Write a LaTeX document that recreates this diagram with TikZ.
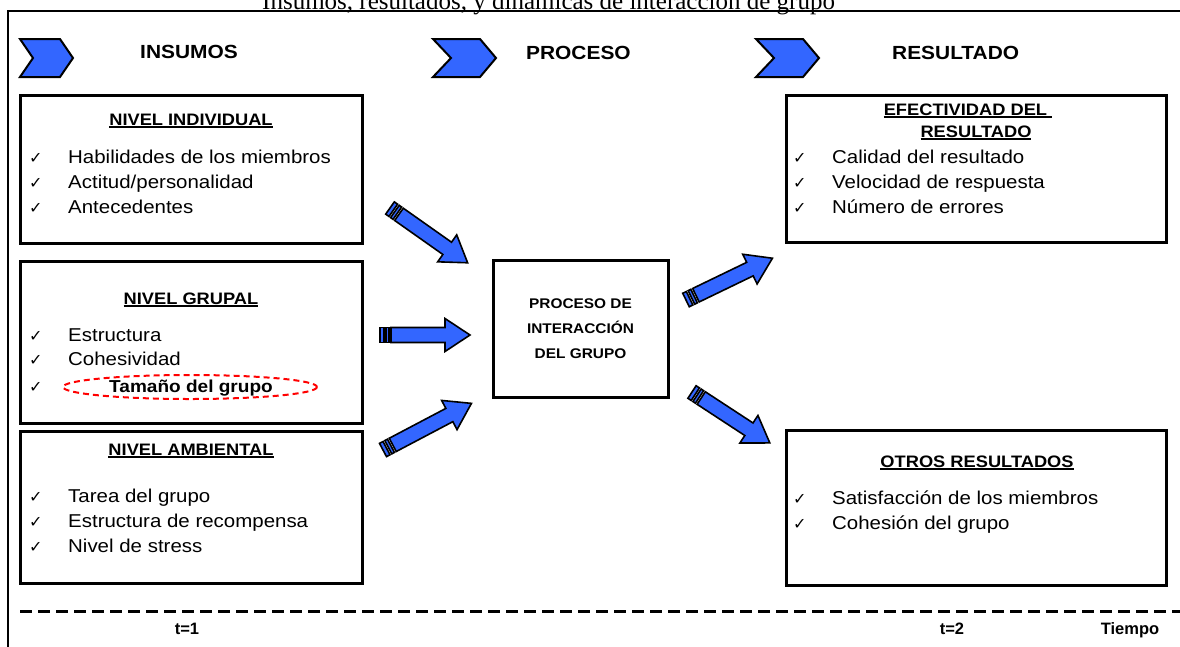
\documentclass[tikz,border=0pt]{standalone}
\usepackage{fontspec}
\setmainfont{Liberation Serif}
\setsansfont{Liberation Sans}
\newfontfamily\dejavu{DejaVu Sans}
\newfontfamily\arialS[FakeStretch=1.1]{Liberation Sans}
\newfontfamily\arialN{Liberation Sans}
\definecolor{arrblue}{HTML}{3366FF}
\definecolor{ellred}{HTML}{FF0000}
\newcommand\myul[1]{\setbox0=\hbox{#1}\leavevmode\rlap{\rule[-3.2pt]{\wd0}{1.8pt}}\box0}
\newcommand\itemfont{\arialS\fontsize{18.6}{20}\selectfont}
\newcommand\headfont{\arialS\bfseries\fontsize{16.6}{20}\selectfont}
\newcommand\topfont{\arialS\bfseries\fontsize{19}{20}\selectfont}
\newcommand\procfont{\arialS\bfseries\fontsize{14}{25}\selectfont}
\newcommand\timefont{\arialN\bfseries\fontsize{16.5}{18}\selectfont}
\tikzset{
  framel/.style={line width=2pt},
  boxx/.style={draw, line width=3pt, rectangle, inner sep=0pt, outer sep=0pt, anchor=north west},
  chev/.style={fill=arrblue, draw=black, line width=2pt, line join=miter},
  arrowpart/.style={fill=arrblue, draw=black, line width=1.6pt, line join=miter},
  itm/.style={inner sep=0pt, anchor=base west, font=\itemfont},
  hd/.style={inner sep=0pt, anchor=base, font=\headfont},
  tp/.style={inner sep=0pt, anchor=base west, font=\topfont},
  ckm/.style={inner sep=0pt, anchor=base west, font=\dejavu\fontsize{16}{16}\selectfont},
  tm/.style={inner sep=0pt, anchor=base, font=\timefont},
  pics/blockarrow/.style={code={
    \path[arrowpart] (0,-7.5) rectangle (4,7.5);
    \path[arrowpart] (6,-7.5) rectangle (9,7.5);
    \path[arrowpart] (11,-7.5) -- ({#1-25},-7.5) -- ({#1-25},-16.5) -- (#1,0) -- ({#1-25},16.5) -- ({#1-25},7.5) -- (11,7.5) -- cycle;
  }},
}
\begin{document}
\begin{tikzpicture}[x=1pt,y=-1pt]
\useasboundingbox (0,0) rectangle (1180,646);
% title
\node[inner sep=0pt, anchor=base west, font=\fontsize{25}{25}\selectfont] (title) at (262,9) {Insumos, resultados, y dinámicas de interacción de grupo};
% frame
\draw[framel] (8,650) -- (8,11) -- (1184,11);
% chevrons and column titles
\draw[chev] (20,39) -- (60,39) -- (73,58) -- (60,77) -- (20,77) -- (33,58) -- cycle;
\draw[chev] (433,39) -- (480,39) -- (496,58) -- (480,77) -- (433,77) -- (451,58) -- cycle;
\draw[chev] (756,39) -- (803,39) -- (819,58) -- (803,77) -- (756,77) -- (774,58) -- cycle;
\node[tp] (tins) at (140,58) {INSUMOS};
\node[tp] (tpro) at (526,59) {PROCESO};
\node[tp] (tres) at (892,59) {RESULTADO};
% boxes
\node[boxx, minimum width=342pt, minimum height=148pt] (b1) at (20,95) {};
\node[boxx, minimum width=342pt, minimum height=162pt] (b2) at (20,261) {};
\node[boxx, minimum width=342pt, minimum height=152pt] (b3) at (20,431) {};
\node[boxx, minimum width=175pt, minimum height=137pt, anchor=center, align=center, font=\procfont] (bc) at (580.5,329) {PROCESO DE\\INTERACCIÓN\\DEL GRUPO};
\node[boxx, minimum width=380pt, minimum height=147pt] (r1) at (786,95) {};
\node[boxx, minimum width=380pt, minimum height=155pt] (r2) at (786,430) {};
% box 1
\node[hd] (h1) at (191,125) {\myul{NIVEL INDIVIDUAL}};
\node[ckm] (c11) at (29,163) {✓}; \node[itm] (i11) at (68,163) {Habilidades de los miembros};
\node[ckm] (c12) at (29,188) {✓}; \node[itm] (i12) at (68,188) {Actitud/personalidad};
\node[ckm] (c13) at (29,213) {✓}; \node[itm] (i13) at (68,213) {Antecedentes};
% box 2
\node[hd] (h2) at (191,304) {\myul{NIVEL GRUPAL}};
\node[ckm] (c21) at (29,341) {✓}; \node[itm] (i21) at (68,341) {Estructura};
\node[ckm] (c22) at (29,365) {✓}; \node[itm] (i22) at (68,365) {Cohesividad};
\node[ckm] (c23) at (29,392) {✓};
\node[inner sep=0pt, anchor=base, font=\arialS\bfseries\fontsize{17.3}{20}\selectfont] (i23) at (191,392) {Tamaño del grupo};
\draw[ellred, line width=2pt, dash pattern=on 6pt off 4pt] (190,387) ellipse [x radius=127, y radius=12];
% box 3
\node[hd] (h3) at (191,455) {\myul{NIVEL AMBIENTAL}};
\node[ckm] (c31) at (29,502) {✓}; \node[itm] (i31) at (68,502) {Tarea del grupo};
\node[ckm] (c32) at (29,527) {✓}; \node[itm] (i32) at (68,527) {Estructura de recompensa};
\node[ckm] (c33) at (29,552) {✓}; \node[itm] (i33) at (68,552) {Nivel de stress};
% right box 1
\node[hd] (h4) at (968,115) {\myul{EFECTIVIDAD DEL\ }};
\node[hd] (h4b) at (976,137) {\myul{RESULTADO}};
\node[ckm] (c41) at (793,163) {✓}; \node[itm] (i41) at (832,163) {Calidad del resultado};
\node[ckm] (c42) at (793,188) {✓}; \node[itm] (i42) at (832,188) {Velocidad de respuesta};
\node[ckm] (c43) at (793,213) {✓}; \node[itm] (i43) at (832,213) {Número de errores};
% right box 2
\node[hd] (h5) at (977,467) {\myul{OTROS RESULTADOS}};
\node[ckm] (c51) at (793,504) {✓}; \node[itm] (i51) at (832,504) {Satisfacción de los miembros};
\node[ckm] (c52) at (793,529) {✓}; \node[itm] (i52) at (832,529) {Cohesión del grupo};
% block arrows
\coordinate (a1) at (390,208);
\coordinate (a2) at (380,335);
\coordinate (a3) at (383,450);
\coordinate (a4) at (686,300);
\coordinate (a5) at (692,392);
\pic[rotate=-35.2] at (a1) {blockarrow=95};
\pic at (a2) {blockarrow=90};
\pic[rotate=27.8] at (a3) {blockarrow=100};
\pic[rotate=25.8] at (a4) {blockarrow=96};
\pic[rotate=-33.2] at (a5) {blockarrow=93};
% time axis
\coordinate (ta) at (20,611);
\coordinate (tb) at (1180,611);
\draw[line width=3pt, dash pattern=on 12pt off 6pt] (ta) -- (tb);
\node[tm] (t1) at (187,634) {t=1};
\node[tm] (t2) at (952,634) {t=2};
\node[tm] (tt) at (1130,634) {Tiempo};
\end{tikzpicture}
\end{document}
